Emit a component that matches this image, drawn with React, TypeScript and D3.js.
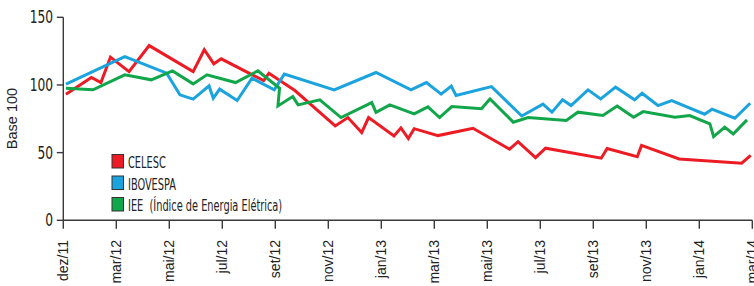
import React from "react";
import * as d3 from "d3";

const xLabels = ["dez/11","mar/12","mai/12","jul/12","set/12","nov/12","jan/13","mar/13","mai/13","jul/13","set/13","nov/13","jan/14","mar/14"];
const yTicks = [0, 50, 100, 150];

// [position on the period axis (label index), value]
const celesc: [number, number][] = [
  [0.05,93.2],[0.53,105.5],[0.71,101.8],[0.89,120.6],[1.24,109.9],[1.62,129.1],[2.45,109.9],[2.66,126.0],
  [2.84,115.6],[2.98,119.3],[3.78,103.2],[3.88,108.7],[4.37,95.9],[5.13,69.7],[5.37,75.9],[5.63,64.9],
  [5.76,75.9],[6.24,62.3],[6.37,68.3],[6.51,60.4],[6.62,67.7],[7.07,62.6],[7.73,68.0],[8.42,52.6],
  [8.58,58.1],[8.91,46.3],[9.10,53.3],[10.15,45.9],[10.26,53.0],[10.83,47.0],[10.91,55.3],[11.62,45.3],
  [12.80,42.2],[12.97,47.9]
];
const ibovespa: [number, number][] = [
  [0.05,100.6],[1.16,121.0],[1.95,108.7],[2.20,92.7],[2.45,89.5],[2.75,99.3],[2.83,90.2],[2.95,96.9],
  [3.28,88.5],[3.56,105.0],[3.98,96.4],[4.17,108.0],[5.11,96.4],[5.90,109.2],[6.56,96.4],[6.85,101.8],
  [7.13,93.2],[7.32,99.1],[7.41,92.2],[8.08,98.8],[8.65,77.1],[9.05,85.8],[9.22,79.9],[9.42,89.0],
  [9.58,84.8],[9.90,96.4],[10.14,89.7],[10.42,98.4],[10.78,89.0],[10.92,93.9],[11.22,84.8],[11.48,88.5],
  [12.10,78.4],[12.24,82.1],[12.67,75.4],[12.96,86.5]
];
const iee: [number, number][] = [
  [0.05,97.6],[0.56,96.4],[1.16,107.5],[1.66,103.8],[2.06,110.4],[2.45,100.8],[2.71,107.5],[3.25,101.8],
  [3.67,110.4],[4.08,97.6],[4.05,84.5],[4.33,91.4],[4.43,85.3],[4.84,89.0],[5.24,75.9],[5.82,87.0],
  [5.90,79.7],[6.16,85.3],[6.62,78.6],[6.88,83.8],[7.10,75.9],[7.33,84.0],[7.89,82.5],[8.05,89.7],
  [8.49,72.5],[8.77,75.9],[9.49,73.7],[9.71,79.9],[10.18,77.4],[10.45,84.5],[10.76,76.2],[10.94,80.3],
  [11.54,76.2],[11.82,77.4],[12.20,71.2],[12.27,61.8],[12.48,68.8],[12.64,63.8],[12.90,74.2]
];

const seriesNames = ["CELESC", "IBOVESPA", "IEE  (Índice de Energia Elétrica)"];
const seriesData = [celesc, ibovespa, iee];
const seriesColors = ["#ED1C24", "#1BA3DD", "#12A64B"];

const W = 754, H = 286;
const condensed = "'Liberation Sans Narrow', 'DejaVu Sans Condensed', 'Arial Narrow', sans-serif";

export default function App() {
  const x = d3.scaleLinear().domain([0, 13]).range([63.3, 752.3]);
  const y = d3.scaleLinear().domain([0, 150]).range([220.3, 17.3]);
  const line = d3.line<[number, number]>().x(d => x(d[0])).y(d => y(d[1]));
  const axisColor = "#3a3a3a";

  return (
    <svg width={W} height={H} style={{ position: "absolute", left: 0, top: 0, background: "#fff" }}>
      {/* y axis */}
      <line x1={x(0)} x2={x(0)} y1={y(0)} y2={y(150)} stroke={axisColor} strokeWidth={1.4} />
      {yTicks.map(t => (
        <g key={t}>
          <line x1={x(0) - 6.5} x2={x(0)} y1={y(t)} y2={y(t)} stroke={axisColor} strokeWidth={1.4} />
          <g transform={`translate(53,${y(t)}) scale(0.8,1)`}>
            <text x={0} y={0} dy="0.36em" textAnchor="end" fontFamily={condensed} fontSize={17} fill="#222">{t}</text>
          </g>
        </g>
      ))}
      <text transform={`translate(17,${118.5}) rotate(-90)`} textAnchor="middle" fontFamily="'Liberation Sans', Arial, sans-serif" fontSize={14.5} fill="#222">Base 100</text>

      {/* x axis */}
      <line x1={x(0)} x2={x(13)} y1={y(0)} y2={y(0)} stroke={axisColor} strokeWidth={1.4} />
      {xLabels.map((lab, i) => (
        <g key={lab}>
          <line x1={x(i)} x2={x(i)} y1={y(0)} y2={y(0) + 8.5} stroke={axisColor} strokeWidth={1.4} />
          <text transform={`translate(${x(i)},240) rotate(-90)`} dy="0.36em" textAnchor="end" fontFamily="'Liberation Sans', Arial, sans-serif" fontSize={14} fill="#222">{lab}</text>
        </g>
      ))}

      {/* series */}
      {seriesData.map((d, i) => (
        <path key={i} d={line(d) || ""} fill="none" stroke={seriesColors[i]} strokeWidth={3} strokeLinejoin="miter" strokeMiterlimit={4} />
      ))}

      {/* legend */}
      {seriesNames.map((n, i) => (
        <g key={n} transform={`translate(0,${i * 21.5})`}>
          <rect x={112} y={154.5} width={11.5} height={13.5} fill={seriesColors[i]} stroke="#333" strokeWidth={1} />
          <g transform="translate(128,168) scale(0.66,1)">
            <text x={0} y={0} fontFamily={condensed} fontSize={16.5} fill="#222" style={{ whiteSpace: "pre" }}>{n}</text>
          </g>
        </g>
      ))}
    </svg>
  );
}
